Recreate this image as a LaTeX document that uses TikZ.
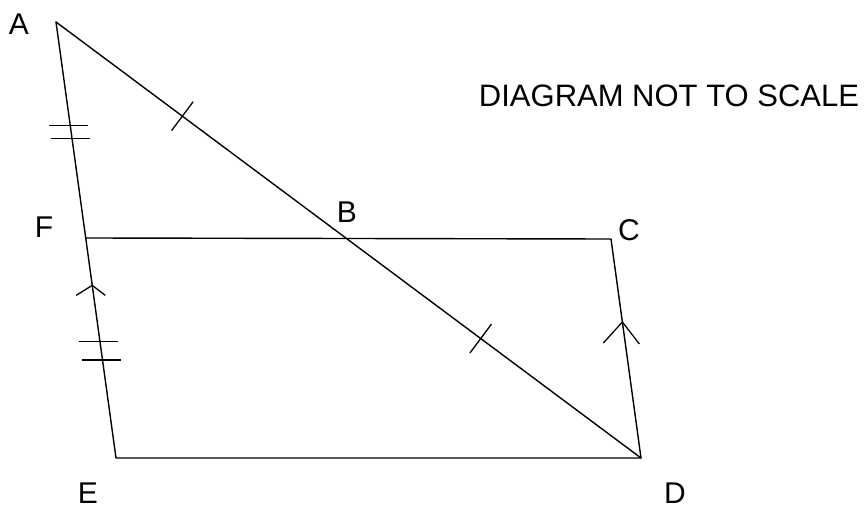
\documentclass[tikz,border=0pt]{standalone}
\usepackage{fontspec}
\setmainfont{Liberation Sans}
\usetikzlibrary{calc}
\begin{document}
\begin{tikzpicture}[x=1pt,y=-1pt,
  edge/.style={line width=1.4pt,line cap=round,line join=round},
  tick/.style={line width=1.3pt},
  lbl/.style={font=\fontsize{30}{32}\selectfont,inner sep=0pt}]
\useasboundingbox (0,0) rectangle (864,510);
\coordinate (A) at (56,22);
\coordinate (F) at (86,238);
\coordinate (E) at (116,458);
\coordinate (D) at (641,458);
\coordinate (C) at (611,239);
\coordinate (B) at (346,238);
% lines
\draw[edge] (A) -- (E) -- (D) -- (C) -- (F);
\draw[edge] (A) -- (D);
% ticks on AD
\path (A) -- (D) coordinate[pos=0.216] (t1) coordinate[pos=0.726] (t2);
\draw[tick] ($(t1)!18pt!90:(D)$) -- ($(t1)!18pt!-90:(D)$);
\draw[tick] ($(t2)!18pt!90:(D)$) -- ($(t2)!18pt!-90:(D)$);
% double ticks on AF and FE
\path (A) -- (E) coordinate[pos=0.237] (d1) coordinate[pos=0.267] (d2)
                 coordinate[pos=0.733] (d3) coordinate[pos=0.775] (d4);
\foreach \p in {d1,d2,d3,d4}{
  \draw[tick] ($(\p)+(-21,0)$) -- ($(\p)+(18,0)$);
}
% parallel arrows
\path (A) -- (E) coordinate[pos=0.604] (p1);
\path (C) -- (D) coordinate[pos=0.379] (p2);
\draw[tick,line join=miter] ($(p1)+(-16,10)$) -- (p1) -- ($(p1)+(13,10)$);
\draw[tick,line join=miter] ($(p2)+(-19,21)$) -- (p2) -- ($(p2)+(17,22)$);
% labels
\node[lbl] (lA) at (19,24) {A};
\node[lbl] (lF) at (44,227) {F};
\node[lbl] (lB) at (347,212) {B};
\node[lbl] (lC) at (629,230) {C};
\node[lbl] (lE) at (88,493) {E};
\node[lbl] (lD) at (675,493) {D};
\node[lbl,font=\fontsize{31}{33}\selectfont] (note) at (669,96) {DIAGRAM NOT TO SCALE};
\end{tikzpicture}
\end{document}
